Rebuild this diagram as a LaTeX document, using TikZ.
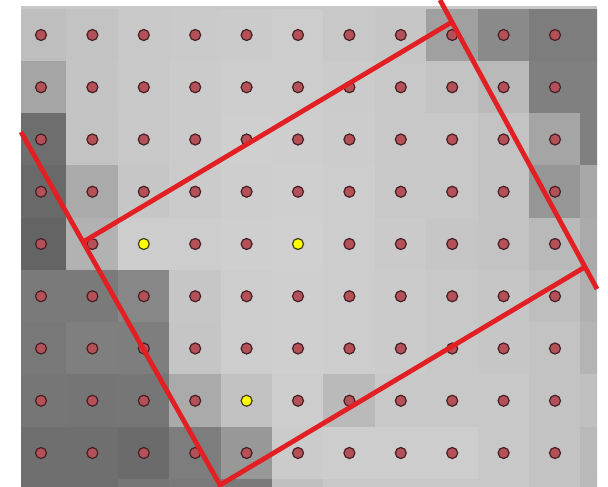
\documentclass[tikz,border=0pt]{standalone}
\definecolor{linered}{RGB}{226,32,36}
\definecolor{dotfill}{RGB}{180,80,88}
\definecolor{dotedge}{RGB}{70,32,36}
\definecolor{yelfill}{RGB}{255,255,0}
\definecolor{yeledge}{RGB}{70,60,20}
\definecolor{basegrey}{RGB}{200,200,200}
\tikzset{
  reddot/.style={circle,draw=dotedge,fill=dotfill,line width=1.2pt,inner sep=0pt,minimum size=11pt},
  yeldot/.style={circle,draw=yeledge,fill=yelfill,line width=1.2pt,inner sep=0pt,minimum size=11pt},
  redline/.style={draw=linered,line width=4.8pt,line join=miter}
}
\begin{document}
\begin{tikzpicture}[x=1pt,y=-1pt]
\useasboundingbox (0,0) rectangle (608,487);
\begin{scope}
\clip (21,6) rectangle (597,487);
\fill[basegrey] (21,6) rectangle (597,487);
\foreach \row [count=\ri from 0] in {
 {190,195,200,202,203,205,200,198,160,138,125,125},
 {165,196,200,203,205,205,203,200,195,185,128,128},
 {110,195,200,203,207,206,204,200,200,195,165,128},
 {105,170,198,203,206,207,205,200,200,195,150,168},
 {100,178,205,205,207,208,205,202,198,195,185,170},
 {122,122,135,198,205,207,205,203,200,198,190,176},
 {120,127,126,197,205,207,205,203,200,198,195,180},
 {118,117,118,170,194,205,186,200,200,200,195,192},
 {111,111,107,125,152,203,205,205,205,200,195,185},
 {110,110,118,122,122,192,200,200,200,200,195,185}} {
  \foreach \v [count=\ci from 0] in \row {
    \pgfmathsetmacro\g{\v/255}
    \definecolor{cellc}{gray}{\g}
    \fill[cellc] ({15.3+51.4*\ci-0.4},{9+52.25*\ri-0.4}) rectangle ({15.3+51.4*(\ci+1)+0.4},{9+52.25*(\ri+1)+0.4});
  }
}
\end{scope}
\foreach \ci in {0,...,10} {
  \foreach \ri in {0,...,8} {
    \pgfmathtruncatemacro\isy{((\ci==2)&&(\ri==4))||((\ci==5)&&(\ri==4))||((\ci==4)&&(\ri==7))}
    \ifnum\isy=1
      \node[yeldot] (d\ci-\ri) at ({41+51.4*\ci},{35+52.25*\ri}) {};
    \else
      \node[reddot] (d\ci-\ri) at ({41+51.4*\ci},{35+52.25*\ri}) {};
    \fi
  }
}
\coordinate (P1) at (83,242);
\coordinate (P2) at (452,22);
\coordinate (P3) at (585,267);
\coordinate (P4) at (220,485);
\coordinate (Ltop) at (21,132);
\coordinate (Rtop) at (440,0);
\coordinate (Rbot) at (597,289);
\draw[redline] (Ltop) -- (P4) -- (P3);
\draw[redline] (Rtop) -- (Rbot);
\draw[redline] (P1) -- (P2);
\end{tikzpicture}
\end{document}
